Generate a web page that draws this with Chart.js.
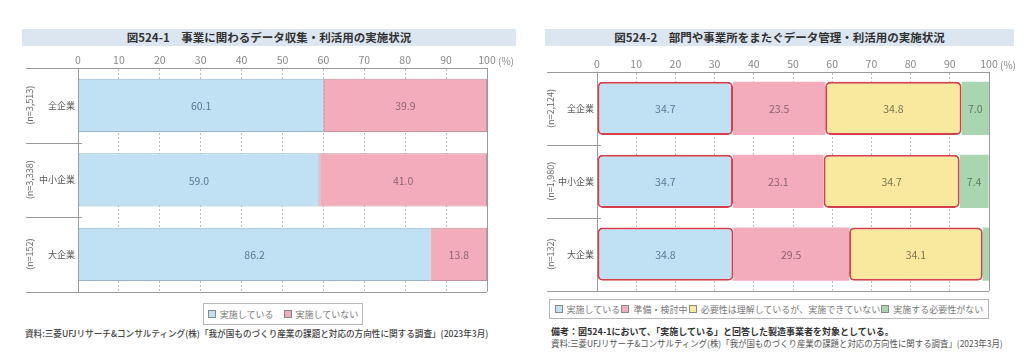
<!DOCTYPE html>
<html lang="ja">
<head>
<meta charset="utf-8">
<script src="https://cdn.jsdelivr.net/npm/chart.js@4/dist/chart.umd.min.js"></script>
<style>
  body { margin: 0; background: #fff; font-family: 'Noto Sans CJK JP', sans-serif; }
  #page { position: relative; width: 1024px; height: 363px; overflow: hidden; }
  .banner { position: absolute; height: 17px; line-height: 17px; background: #dce6f1; color: #333;
            font-size: 11.5px; font-weight: bold; text-align: center; white-space: nowrap; }
  .legend { position: absolute; border: 1px solid #b8b8b8; display: flex; align-items: center;
            font-size: 9px; color: #777; white-space: nowrap; box-sizing: border-box; }
  .legend span.item { display: inline-flex; align-items: center; }
  .legend i { display: inline-block; width: 8px; height: 8px; margin-right: 4px; border: 1px solid #888; box-sizing: border-box; }
  .note { position: absolute; font-size: 9px; white-space: nowrap; color: #333; transform-origin: 0 0; }
  canvas { position: absolute; }
</style>
</head>
<body>
<div id="page">
  <div class="banner" style="left:22px; top:29px; width:494px;">図524-1　事業に関わるデータ収集・利活用の実施状況</div>
  <div class="banner" style="left:545px; top:29px; width:469px;">図524-2　部門や事業所をまたぐデータ管理・利活用の実施状況</div>
  <canvas id="leftChart" width="494" height="250" style="left:26px; top:50px;"></canvas>
  <canvas id="rightChart" width="473" height="245" style="left:547px; top:54px;"></canvas>
  <div id="leftLegend" class="legend" style="left:203px; top:303px; width:160px; height:22px; justify-content:center; gap:10px;"></div>
  <div id="rightLegend" class="legend" style="left:549px; top:299px; width:440px; height:20px; justify-content:space-around; padding:0 4px;"></div>
  <div class="note" style="left:25px; top:327px; font-weight:500; color:#444; transform:scaleX(0.955);">資料:三菱UFJリサーチ&amp;コンサルティング(株)「我が国ものづくり産業の課題と対応の方向性に関する調査」(2023年3月)</div>
  <div class="note" style="left:551px; top:325px; font-weight:bold; color:#333;">備考：図524-1において、「実施している」と回答した製造事業者を対象としている。</div>
  <div class="note" style="left:551px; top:337px; color:#555; transform:scaleX(0.935);">資料:三菱UFJリサーチ&amp;コンサルティング(株)「我が国ものづくり産業の課題と対応の方向性に関する調査」(2023年3月)</div>
</div>
<script>
//// Data

// categories
const categories = ['全企業', '中小企業', '大企業'];
const leftCounts = ['(n=3,513)', '(n=3,338)', '(n=152)'];
const rightCounts = ['(n=2,124)', '(n=1,980)', '(n=132)'];

// 図524-1
const leftSeries = ['実施している', '実施していない'];
const leftDone = [60.1, 59.0, 86.2];
const leftNotDone = [39.9, 41.0, 13.8];

// 図524-2
const rightSeries = ['実施している', '準備・検討中', '必要性は理解しているが、実施できていない', '実施する必要性がない'];
const rightDone = [34.7, 34.7, 34.8];
const rightPreparing = [23.5, 23.1, 29.5];
const rightUnable = [34.8, 34.7, 34.1];
const rightNoNeed = [7.0, 7.4, 1.6];

// ticks
const xTicks = [0, 10, 20, 30, 40, 50, 60, 70, 80, 90, 100];

//// Styles
const colors = {
    blue: '#bfe1f3',
    pink: '#f3acbb',
    yellow: '#f8e99e',
    green: '#a9d6b1',
    red: '#d6404c'
};
const labelColors = {
    blue: '#5b7a94',
    pink: '#8e6470',
    yellow: '#7c7452',
    green: '#5b7a60'
};

Chart.defaults.font.family = "'Noto Sans CJK JP', 'Noto Sans', sans-serif";
Chart.defaults.animation = false;

// frame lines, rotated n labels, value labels and the (%) unit
const framePlugin = {
    id: 'frame',
    afterDraw(chart, args, opts) {
        const { ctx, chartArea: a, scales: { x, y } } = chart;
        ctx.save();
        ctx.strokeStyle = '#9a9a9a';
        ctx.lineWidth = 1;
        const n = chart.data.labels.length;
        const bounds = [a.top];
        for (let i = 0; i < n - 1; i++) {
            bounds.push((y.getPixelForValue(i) + y.getPixelForValue(i + 1)) / 2);
        }
        bounds.push(a.bottom);
        bounds.forEach((b, i) => {
            const full = i === 0 || i === bounds.length - 1;
            const yy = Math.round(b) + 0.5;
            ctx.beginPath();
            ctx.moveTo(a.left - opts.reach, yy);
            ctx.lineTo(full ? a.right : a.left + 4, yy);
            ctx.stroke();
        });

        // (n=...) rotated
        ctx.fillStyle = '#666';
        ctx.font = "9px 'Noto Sans CJK JP'";
        ctx.textAlign = 'center';
        ctx.textBaseline = 'middle';
        opts.counts.forEach((t, i) => {
            ctx.save();
            ctx.translate(a.left - opts.countOffset, y.getPixelForValue(i));
            ctx.rotate(-Math.PI / 2);
            ctx.fillText(t, 0, 0);
            ctx.restore();
        });

        // values in the bars
        ctx.font = "10.5px 'Noto Sans CJK JP'";
        chart.data.datasets.forEach((ds, di) => {
            const meta = chart.getDatasetMeta(di);
            ctx.fillStyle = ds.labelColor;
            meta.data.forEach((bar, i) => {
                const v = ds.data[i];
                if (v < 3) return;
                const p = bar.getCenterPoint();
                ctx.fillText(v.toFixed(1), p.x, p.y + 1);
            });
        });

        // unit after the last tick
        ctx.fillStyle = '#888';
        ctx.textAlign = 'left';
        ctx.textBaseline = 'bottom';
        ctx.font = "10px 'Noto Sans CJK JP'";
        ctx.fillText('(%)', x.getPixelForValue(100) + 11, x.bottom - 2);
        ctx.restore();
    }
};

const buildOptions = (counts, yWidth, barPct, padRight) => ({
    responsive: false,
    indexAxis: 'y',
    layout: { padding: { top: 0, right: padRight, bottom: 1, left: 0 } },
    plugins: {
        legend: { display: false },
        tooltip: { enabled: false },
        frame: { counts: counts, reach: yWidth, countOffset: yWidth - 4 }
    },
    datasets: { bar: { categoryPercentage: 1, barPercentage: barPct } },
    scales: {
        x: {
            position: 'top',
            stacked: true,
            min: 0,
            max: 100,
            afterFit: s => { s.height = 18; },
            afterBuildTicks: s => { s.ticks = xTicks.map(v => ({ value: v })); },
            ticks: { color: '#888', font: { size: 10.5 }, padding: 2, maxRotation: 0 },
            grid: {
                drawTicks: false,
                color: ctx => (ctx.tick && ctx.tick.value === 100) ? '#9a9a9a' : '#b8b8b8'
            },
            border: {
                color: '#9a9a9a',
                dash: ctx => (ctx.tick && ctx.tick.value > 0 && ctx.tick.value < 100) ? [2, 2] : []
            }
        },
        y: {
            stacked: true,
            afterFit: s => { s.width = yWidth; },
            ticks: { color: '#555', font: { size: 9 }, padding: 3 },
            grid: { display: false, drawTicks: false },
            border: { color: '#9a9a9a' }
        }
    }
});

const chartInitial = () => {
    new Chart(document.getElementById('leftChart'), {
        type: 'bar',
        data: {
            labels: categories,
            datasets: [
                { label: leftSeries[0], data: leftDone, backgroundColor: colors.blue, borderColor: '#97b7c9', borderWidth: 1, borderSkipped: false, labelColor: labelColors.blue },
                { label: leftSeries[1], data: leftNotDone, backgroundColor: colors.pink, borderColor: '#c8909c', borderWidth: 1, borderSkipped: false, labelColor: labelColors.pink }
            ]
        },
        options: buildOptions(leftCounts, 52, 0.714, 33),
        plugins: [framePlugin]
    });

    const redRadius = { topLeft: 5, topRight: 5, bottomLeft: 5, bottomRight: 5 };
    new Chart(document.getElementById('rightChart'), {
        type: 'bar',
        data: {
            labels: categories,
            datasets: [
                { label: rightSeries[0], data: rightDone, backgroundColor: colors.blue, borderColor: colors.red, borderWidth: 2, borderRadius: redRadius, borderSkipped: false, labelColor: labelColors.blue },
                { label: rightSeries[1], data: rightPreparing, backgroundColor: colors.pink, borderWidth: 0, labelColor: labelColors.pink },
                { label: rightSeries[2], data: rightUnable, backgroundColor: colors.yellow, borderColor: colors.red, borderWidth: 2, borderRadius: redRadius, borderSkipped: false, labelColor: labelColors.yellow },
                { label: rightSeries[3], data: rightNoNeed, backgroundColor: colors.green, borderWidth: 0, labelColor: labelColors.green }
            ]
        },
        options: buildOptions(rightCounts, 50, 0.73, 31),
        plugins: [framePlugin]
    });

    // legends
    const fillLegend = (id, names, swatches) => {
        const el = document.getElementById(id);
        names.forEach((name, i) => {
            const item = document.createElement('span');
            item.className = 'item';
            item.innerHTML = '<i style="background:' + swatches[i] + '"></i>' + name;
            el.appendChild(item);
        });
    };
    fillLegend('leftLegend', leftSeries, [colors.blue, colors.pink]);
    fillLegend('rightLegend', rightSeries, [colors.blue, colors.pink, colors.yellow, colors.green]);
};

window.onload = () => {
    chartInitial();
};
</script>
</body>
</html>
